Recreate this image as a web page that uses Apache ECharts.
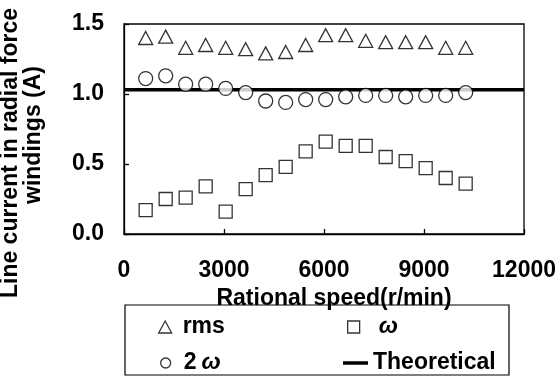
<!DOCTYPE html>
<html>
<head>
<meta charset="utf-8">
<script src="https://cdn.jsdelivr.net/npm/echarts@6/dist/echarts.min.js"></script>
<style>
html,body{margin:0;padding:0;background:#fff;}
#c{width:559px;height:376px;}
</style>
</head>
<body>
<div id="c"></div>
<script>
// Data
var speeds = [650, 1250, 1850, 2450, 3050, 3650, 4250, 4850, 5450, 6050, 6650, 7250, 7850, 8450, 9050, 9650, 10250];
var rmsValues = [1.40, 1.41, 1.33, 1.35, 1.33, 1.32, 1.29, 1.30, 1.35, 1.42, 1.42, 1.38, 1.37, 1.37, 1.37, 1.33, 1.33];
var omegaValues = [0.17, 0.25, 0.26, 0.34, 0.16, 0.32, 0.42, 0.48, 0.59, 0.66, 0.63, 0.63, 0.55, 0.52, 0.47, 0.40, 0.36];
var twoOmegaValues = [1.11, 1.13, 1.07, 1.07, 1.04, 1.01, 0.95, 0.94, 0.96, 0.96, 0.98, 0.99, 0.99, 0.98, 0.99, 0.99, 1.01];
var theoreticalX = [0, 12000];
var theoreticalY = [1.03, 1.03];
var xTicks = [0, 3000, 6000, 9000, 12000];
var yTicks = [0.0, 0.5, 1.0, 1.5];
var seriesNames = ['rms', 'ω', '2ω', 'Theoretical'];
var yTitleLines = ['Line current in radial force', 'windings (A)'];
var xTitle = 'Rational speed(r/min)';

function pairs(xs, ys) { return xs.map(function (x, i) { return [x, ys[i]]; }); }

var FONT = '"Liberation Sans", Arial, sans-serif';
var FS = 23;
var markerStyle = { color: '#fff', borderColor: '#000', borderWidth: 1.3 };
var baseTxt = { fontFamily: FONT, fontSize: FS, fontWeight: 'bold', color: '#000', lineHeight: 24 };
function mkLegend(name, left, top, w, h, gapW, icon, fmt) {
  return {
    data: [icon ? { name: name, icon: icon } : name], left: left, top: top, padding: 0,
    itemWidth: w, itemHeight: h, selectedMode: false,
    formatter: function () { return '{g|}' + fmt; },
    textStyle: Object.assign({}, baseTxt, {
      rich: {
        g: { width: gapW, height: 1 },
        s: { width: 5, height: 1 },
        t: baseTxt,
        w: Object.assign({}, baseTxt, { fontStyle: 'italic' })
      }
    }),
    itemStyle: name === 'Theoretical' ? { color: '#000', borderWidth: 0 } : markerStyle
  };
}

var chart = echarts.init(document.getElementById('c'), null, { renderer: 'canvas' });
chart.setOption({
  animation: false,
  backgroundColor: '#fff',
  grid: { left: 124, right: 32, top: 24, bottom: 142, show: true, borderColor: '#000', borderWidth: 1.3, backgroundColor: 'transparent' },
  xAxis: {
    type: 'value', min: xTicks[0], max: xTicks[xTicks.length - 1], interval: 3000,
    name: xTitle, nameLocation: 'middle', nameGap: 39,
    nameTextStyle: { fontFamily: FONT, fontSize: FS, fontWeight: 'bold', color: '#000', padding: [0, 0, 0, 20] },
    axisLine: { lineStyle: { color: '#000', width: 1.3 } },
    axisTick: { inside: true, length: 5, lineStyle: { color: '#000', width: 1.3 } },
    axisLabel: { margin: 25, fontFamily: FONT, fontSize: FS, fontWeight: 'bold', color: '#000',
      formatter: function (v) { return String(v); } },
    splitLine: { show: false }
  },
  yAxis: {
    type: 'value', min: yTicks[0], max: yTicks[yTicks.length - 1], interval: 0.5,
    axisLine: { show: true, lineStyle: { color: '#000', width: 1.3 } },
    axisTick: { show: true, inside: true, length: 5, lineStyle: { color: '#000', width: 1.3 } },
    axisLabel: { margin: 20, fontFamily: FONT, fontSize: FS, fontWeight: 'bold', color: '#000',
      formatter: function (v) { return v.toFixed(1); } },
    splitLine: { show: false }
  },
  legend: [
    mkLegend('rms', 158, 315, 13, 12, 6, 'triangle', '{t|rms}'),
    mkLegend('ω', 347, 315, 12, 12, 14, 'rect', '{w|ω}'),
    mkLegend('2ω', 160, 351, 10, 10, 8, 'circle', '{t|2}{s|}{w|ω}'),
    mkLegend('Theoretical', 343, 351, 25, 3.5, 0, 'rect', '{t|Theoretical}')
  ],
  graphic: [
    { type: 'rect', shape: { x: 125, y: 305, width: 384, height: 70 }, style: { fill: 'none', stroke: '#000', lineWidth: 1.2 }, z: 0 },
    { type: 'text', x: 11, y: 153, rotation: Math.PI / 2,
      style: { text: yTitleLines[0], font: 'bold ' + FS + 'px ' + FONT, fill: '#000', textAlign: 'center', textVerticalAlign: 'middle' } },
    { type: 'text', x: 34, y: 135, rotation: Math.PI / 2,
      style: { text: yTitleLines[1], font: 'bold ' + FS + 'px ' + FONT, fill: '#000', textAlign: 'center', textVerticalAlign: 'middle' } }
  ],
  series: [
    { name: seriesNames[3], type: 'line', data: pairs(theoreticalX, theoreticalY), symbol: 'none',
      lineStyle: { color: '#000', width: 3.5 }, itemStyle: { color: '#000' }, z: 1 },
    { name: seriesNames[0], type: 'scatter', data: pairs(speeds, rmsValues), symbol: 'triangle', symbolSize: [14, 13],
      itemStyle: markerStyle, z: 3 },
    { name: seriesNames[1], type: 'scatter', data: pairs(speeds, omegaValues), symbol: 'rect', symbolSize: 13,
      itemStyle: markerStyle, z: 3 },
    { name: seriesNames[2], type: 'scatter', data: pairs(speeds, twoOmegaValues), symbol: 'circle', symbolSize: 14,
      itemStyle: markerStyle, z: 3 }
  ]
});
</script>
</body>
</html>
